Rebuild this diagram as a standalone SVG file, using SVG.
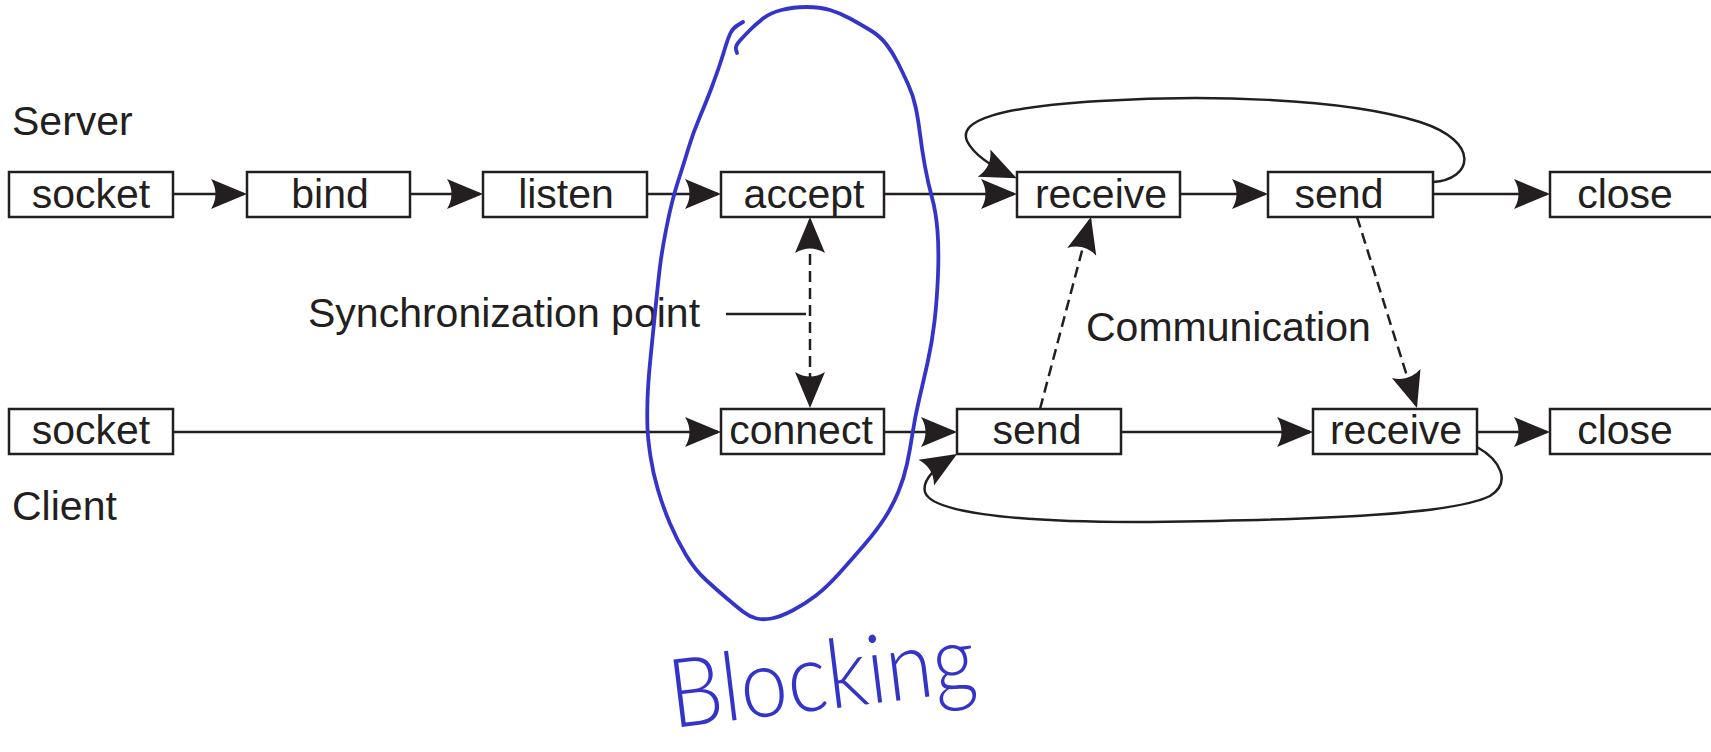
<svg xmlns="http://www.w3.org/2000/svg" width="1711" height="752" viewBox="0 0 1711 752">
  <style>
    .box rect { fill: #ffffff; stroke: #231f20; stroke-width: 2.5; }
    .box text, .lbl { font-family: "Liberation Sans", Arial, sans-serif; font-size: 41px; fill: #231f20; }
    .box text { text-anchor: middle; }
    .conn { fill: none; stroke: #231f20; stroke-width: 2.5; }
    .dash { stroke-dasharray: 11 6; }
    .ink { fill: none; stroke: #3434c9; stroke-width: 3.8; stroke-linecap: round; stroke-linejoin: round; }
    .hand { font-family: "Lato", "DejaVu Sans", sans-serif; font-weight: 300; font-size: 96px; fill: #3434c9; }
  </style>
  <defs>
    <marker id="ah" viewBox="-37 -16 38 32" refX="-3" refY="0" markerWidth="38" markerHeight="32" markerUnits="userSpaceOnUse" orient="auto-start-reverse">
      <path d="M0,0 L-36,-15 Q-27,0 -36,15 Z" fill="#231f20" stroke="none"/>
    </marker>
  </defs>

  <rect width="1711" height="752" fill="#ffffff"/>

  <!-- row labels -->
  <text class="lbl" x="12" y="135">Server</text>
  <text class="lbl" x="12" y="520">Client</text>
  <text class="lbl" x="308" y="327">Synchronization point</text>
  <text class="lbl" x="1086" y="341">Communication</text>

  <!-- connectors -->
  <g id="connectors">
    <!-- server row -->
    <line class="conn" x1="173" y1="194" x2="244" y2="194" marker-end="url(#ah)"/>
    <line class="conn" x1="410" y1="194" x2="480" y2="194" marker-end="url(#ah)"/>
    <line class="conn" x1="647" y1="194" x2="718" y2="194" marker-end="url(#ah)"/>
    <line class="conn" x1="884" y1="194" x2="1014" y2="194" marker-end="url(#ah)"/>
    <line class="conn" x1="1180" y1="194" x2="1265" y2="194" marker-end="url(#ah)"/>
    <line class="conn" x1="1433" y1="194" x2="1547" y2="194" marker-end="url(#ah)"/>
    <!-- server loop: send back to receive -->
    <path class="conn" d="M1433,182 C1472,180 1482,142 1420,122 C1340,97 1200,95 1100,101 C1000,107 958,120 967,141 C973,153 988,165 1014,177" marker-end="url(#ah)"/>

    <!-- client row -->
    <line class="conn" x1="173" y1="432" x2="718" y2="432" marker-end="url(#ah)"/>
    <line class="conn" x1="884" y1="432" x2="954" y2="432" marker-end="url(#ah)"/>
    <line class="conn" x1="1121" y1="432" x2="1310" y2="432" marker-end="url(#ah)"/>
    <line class="conn" x1="1477" y1="432" x2="1547" y2="432" marker-end="url(#ah)"/>
    <!-- client loop: receive back to send -->
    <path class="conn" d="M1477,447 C1500,460 1512,482 1490,496 C1450,516 1300,520 1150,522 C1000,523 930,510 925,492 C922,480 934,468 954.5,455.6" marker-end="url(#ah)"/>

    <!-- synchronization accept / connect -->
    <line class="conn dash" x1="810" y1="220" x2="810" y2="405" marker-start="url(#ah)" marker-end="url(#ah)"/>
    <line class="conn" x1="726" y1="314" x2="806" y2="314"/>

    <!-- communication -->
    <line class="conn dash" x1="1040" y1="409" x2="1090.2" y2="219.9" marker-end="url(#ah)"/>
    <line class="conn dash" x1="1357" y1="217" x2="1416.1" y2="405.1" marker-end="url(#ah)"/>
  </g>

  <!-- server nodes -->
  <g id="server-socket" class="box"><rect x="9" y="172" width="164" height="45"/><text x="91" y="208">socket</text></g>
  <g id="server-bind" class="box"><rect x="247" y="172" width="163" height="45"/><text x="330" y="208">bind</text></g>
  <g id="server-listen" class="box"><rect x="483" y="172" width="164" height="45"/><text x="566" y="208">listen</text></g>
  <g id="server-accept" class="box"><rect x="721" y="172" width="163" height="45"/><text x="804" y="208">accept</text></g>
  <g id="server-receive" class="box"><rect x="1017" y="172" width="163" height="45"/><text x="1101" y="208">receive</text></g>
  <g id="server-send" class="box"><rect x="1268" y="172" width="165" height="45"/><text x="1339" y="208">send</text></g>
  <g id="server-close" class="box"><rect x="1550" y="172" width="164" height="45"/><text x="1625" y="208">close</text></g>

  <!-- client nodes -->
  <g id="client-socket" class="box"><rect x="9" y="409" width="164" height="45"/><text x="91" y="444">socket</text></g>
  <g id="client-connect" class="box"><rect x="721" y="409" width="163" height="45"/><text x="801" y="444">connect</text></g>
  <g id="client-send" class="box"><rect x="957" y="409" width="164" height="45"/><text x="1037" y="444">send</text></g>
  <g id="client-receive" class="box"><rect x="1313" y="409" width="164" height="45"/><text x="1396" y="444">receive</text></g>
  <g id="client-close" class="box"><rect x="1550" y="409" width="164" height="45"/><text x="1625" y="444">close</text></g>

  <!-- hand-drawn annotation around accept / connect -->
  <g id="blocking-note">
    <path class="ink" d="M737,53 L736,49.5 Q735,46 740,40.5 Q745,35 750.5,29.5 Q756,24 763,18.5 Q770,13 781.5,10 Q793,7 806.5,7 Q820,7 830,10 Q840,13 850,18.5 Q860,24 870,30 Q880,36 886.5,44.5 Q893,53 898,63 Q903,73 908,84 Q913,95 915.5,106.5 Q918,118 920,134 Q922,150 925,166.5 Q928,183 932,197.5 Q936,212 937.5,231 Q939,250 938,275 Q937,300 934.5,321.5 Q932,343 927.5,363 Q923,383 919,400 Q915,417 912.5,433.5 Q910,450 907,464 Q904,478 898.5,491.5 Q893,505 885,517.5 Q877,530 865,544 Q853,558 840,572.5 Q827,587 816,595.5 Q805,604 792.5,610.5 Q780,617 771.5,618.5 Q763,620 756.5,618.5 Q750,617 743.5,612 Q737,607 727,598.5 Q717,590 706,580 Q695,570 686,555 Q677,540 670,523.5 Q663,507 658,490 Q653,473 650.5,456.5 Q648,440 647.5,428.5 Q647,417 647.5,400 Q648,383 650.5,358 Q653,333 655.5,308 Q658,283 660,266.5 Q662,250 667,225 Q672,200 678,181.5 Q684,163 688.5,148 Q693,133 700,116.5 Q707,100 712,86.5 Q717,73 720,64 Q723,55 725.5,46.5 Q728,38 730.5,33 Q733,28 738,25 L743,22"/>
    <text class="hand" x="673" y="728" transform="rotate(-7 673 728)" textLength="308" lengthAdjust="spacingAndGlyphs">Blocking</text>
  </g>
</svg>
